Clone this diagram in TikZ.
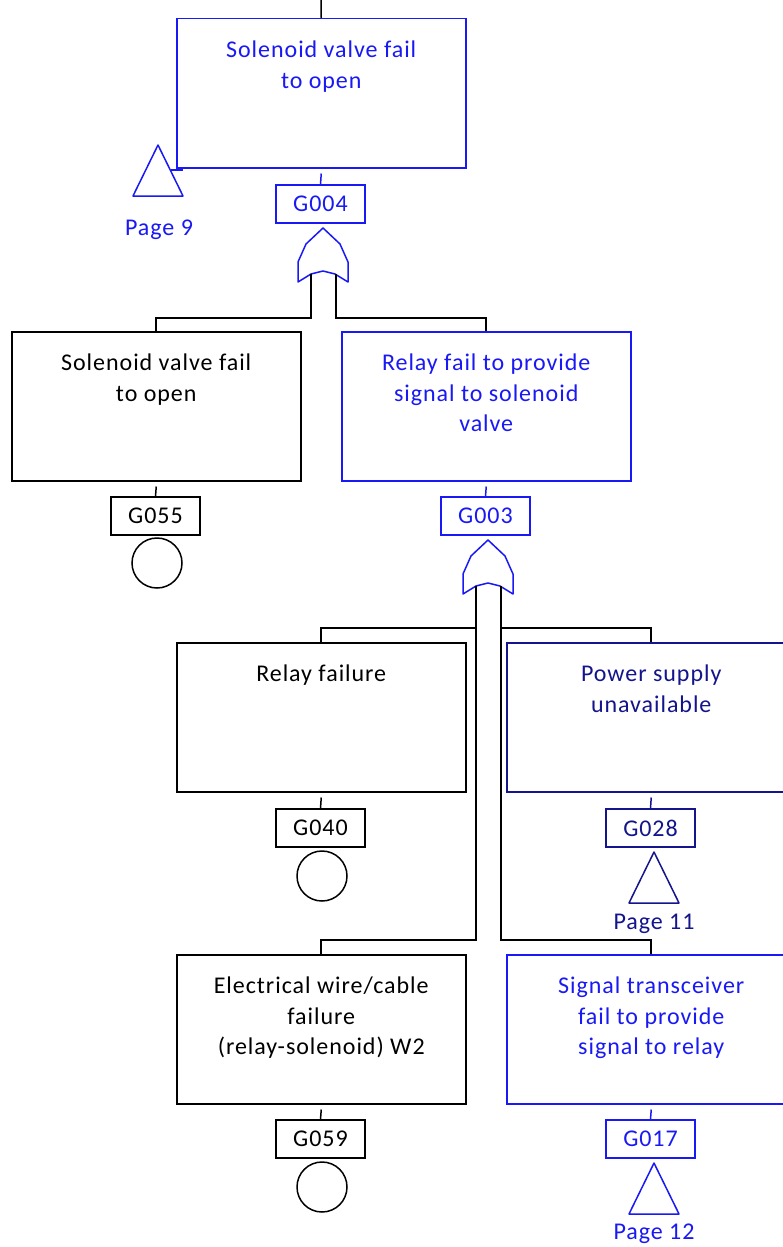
\documentclass[tikz,border=0pt]{standalone}
\usepackage{fontspec}
\setmainfont{Carlito}[LetterSpace=4]
\usetikzlibrary{calc}
\definecolor{fblue}{RGB}{25,25,245}
\definecolor{fnavy}{RGB}{20,20,140}
\begin{document}
\begin{tikzpicture}[x=1pt,y=-1pt,
  evbox/.style={draw, line width=1.5pt, minimum width=289pt, minimum height=149pt, inner sep=0pt, anchor=north west},
  gbox/.style={draw, line width=1.5pt, minimum width=89pt, minimum height=38pt, inner sep=0pt, font=\fontsize{24}{28}\selectfont},
  txt/.style={align=center, inner sep=0pt, anchor=north, font=\fontsize{24}{30.5}\selectfont},
  pagetxt/.style={inner sep=0pt, anchor=base, font=\fontsize{24}{28}\selectfont},
  basic/.style={draw, circle, minimum size=50pt, inner sep=0pt, line width=1.5pt},
  conn/.style={line width=1.5pt},
  leg/.style={line width=2pt, black},
  orgate/.style={line width=1.5pt, draw=fblue, line join=round}
]
\useasboundingbox (0,0) rectangle (783,1247);
\clip (0,0) rectangle (783,1247);
\fill[white] (0,0) rectangle (783,1247);

% ---------- top event ----------
\node[evbox, draw=fblue] (top) at (176,18) {};
\node[txt, text=fblue] (topT) at ($(top.north)+(0,23)$) {Solenoid valve fail\\to open};
\coordinate (topIn) at (321,0);
\draw[conn] (topIn) -- (top.north);
\node[gbox, draw=fblue, text=fblue] (g004) at (320.5,204) {G004};
\draw[conn, fblue] ($(top.south)+(0,5)$) -- (g004.north);

% transfer symbol, page 9
\coordinate (p9) at (158,145);
\draw[conn, fblue, line join=round] (p9) -- ++(25,51) -- ++(-50,0) -- cycle;
\coordinate (p9a) at (171,170);
\coordinate (p9b) at (183,170);
\draw[conn, fblue] (p9a) -- (p9b);
\node[pagetxt, text=fblue] (p9t) at (159,235) {Page 9};

% OR gate under G004
\coordinate (or1) at (323,228);
\draw[orgate] (or1) -- ++(-17,16) -- ++(-8,18) -- ++(0,20) -- ++(13,-8) -- ++(12,-3)
  -- ++(12,3) -- ++(13,8) -- ++(0,-20) -- ++(-8,-18) -- cycle;
\coordinate (or1L) at ($(or1)+(-12,46)$);
\coordinate (or1R) at ($(or1)+(13,46)$);

% ---------- second level ----------
\node[evbox] (A) at (11,331) {};
\node[txt] (AT) at ($(A.north)+(0,23)$) {Solenoid valve fail\\to open};
\node[gbox] (g055) at (155.5,516) {G055};
\draw[conn] ($(A.south)+(0,5)$) -- (g055.north);
\node[basic] (c055) at (157,563) {};

\node[evbox, draw=fblue] (B) at (341,331) {};
\node[txt, text=fblue] (BT) at ($(B.north)+(0,23)$) {Relay fail to provide\\signal to solenoid\\valve};
\node[gbox, draw=fblue, text=fblue] (g003) at (485.5,516) {G003};
\draw[conn, fblue] ($(B.south)+(0,5)$) -- (g003.north);

\draw[leg] (or1L) -- (or1L |- 0,318) -| (A.north);
\draw[leg] (or1R) -- (or1R |- 0,318) -| (B.north);

% OR gate under G003
\coordinate (or2) at (488,540);
\draw[orgate] (or2) -- ++(-17,16) -- ++(-8,18) -- ++(0,20) -- ++(13,-8) -- ++(12,-3)
  -- ++(12,3) -- ++(13,8) -- ++(0,-20) -- ++(-8,-18) -- cycle;
\coordinate (or2L) at ($(or2)+(-12,46)$);
\coordinate (or2R) at ($(or2)+(13,46)$);

% ---------- third level ----------
\node[evbox] (C) at (176,642) {};
\node[txt] (CT) at ($(C.north)+(0,23)$) {Relay failure};
\node[gbox] (g040) at (320.5,828) {G040};
\draw[conn] ($(C.south)+(0,5)$) -- (g040.north);
\node[basic] (c040) at (322,876) {};

\node[evbox, draw=fnavy] (D) at (506,642) {};
\node[txt, text=fnavy] (DT) at ($(D.north)+(0,23)$) {Power supply\\unavailable};
\node[gbox, draw=fnavy, text=fnavy] (g028) at (650.5,828) {G028};
\draw[conn, fnavy] ($(D.south)+(0,5)$) -- (g028.north);
\coordinate (p11) at (654,852);
\draw[conn, fnavy, line join=round] (p11) -- ++(25,51) -- ++(-50,0) -- cycle;
\node[pagetxt, text=fnavy] (p11t) at (654,929.5) {Page 11};

% ---------- fourth level ----------
\node[evbox] (E) at (176,954) {};
\node[txt] (ET) at ($(E.north)+(0,23)$) {Electrical wire/cable\\failure\\(relay-solenoid) W2};
\node[gbox] (g059) at (320.5,1139) {G059};
\draw[conn] ($(E.south)+(0,5)$) -- (g059.north);
\node[basic] (c059) at (322,1187) {};

\node[evbox, draw=fblue] (F) at (506,954) {};
\node[txt, text=fblue] (FT) at ($(F.north)+(0,23)$) {Signal transceiver\\fail to provide\\signal to relay};
\node[gbox, draw=fblue, text=fblue] (g017) at (650.5,1139) {G017};
\draw[conn, fblue] ($(F.south)+(0,5)$) -- (g017.north);
\coordinate (p12) at (654,1163);
\draw[conn, fblue, line join=round] (p12) -- ++(25,51) -- ++(-50,0) -- cycle;
\node[pagetxt, text=fblue] (p12t) at (654,1239.5) {Page 12};

% branches of the second OR gate
\draw[leg] (or2L) -- (or2L |- 0,940) -| (E.north);
\draw[leg] (or2L |- 0,628) -| (C.north);
\draw[leg] (or2R) -- (or2R |- 0,940) -| (F.north);
\draw[leg] (or2R |- 0,628) -| (D.north);
\end{tikzpicture}
\end{document}
